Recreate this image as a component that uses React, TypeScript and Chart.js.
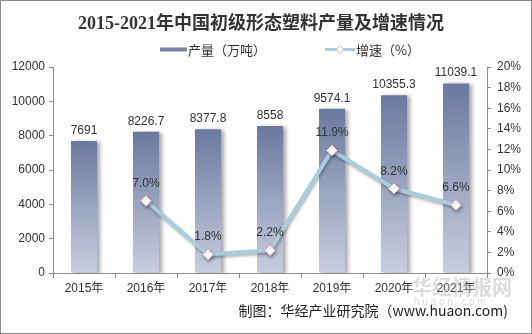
import React, { useEffect, useRef } from "react";
import { Chart, registerables } from "chart.js";

Chart.register(...registerables);

const categories = ["2015年", "2016年", "2017年", "2018年", "2019年", "2020年", "2021年"];
const production = [7691, 8226.7, 8377.8, 8558, 9574.1, 10355.3, 11039.1];
const growth = [null, 7.0, 1.8, 2.2, 11.9, 8.2, 6.6];
const titleText = "2015-2021年中国初级形态塑料产量及增速情况";
const legendBar = "产量（万吨）";
const legendLine = "增速（%）";
const sourceText = "制图：华经产业研究院（www.huaon.com)";

const FONT = "'Liberation Sans', Arial, 'Noto Sans CJK SC', sans-serif";
const CJK = "'Noto Sans CJK SC', 'Liberation Sans', sans-serif";
const AXIS = "#8c8c8c";
const LINE = "#a9cddb";

const decorPlugin = {
  id: "decor",
  beforeDatasetDraw(chart: any, args: any) {
    const ctx = chart.ctx;
    ctx.save();
    if (args.index === 0) {
      ctx.shadowColor = "rgba(0,0,0,0.35)";
      ctx.shadowBlur = 4;
      ctx.shadowOffsetX = 3;
      ctx.shadowOffsetY = 1;
    } else {
      ctx.shadowColor = "rgba(0,0,0,0.3)";
      ctx.shadowBlur = 3;
      ctx.shadowOffsetX = 1;
      ctx.shadowOffsetY = 2;
    }
  },
  afterDatasetDraw(chart: any) {
    chart.ctx.restore();
  },
  afterDatasetsDraw(chart: any) {
    const ctx = chart.ctx;
    ctx.save();
    ctx.fillStyle = "#333";
    ctx.font = "12px " + FONT;
    ctx.textAlign = "center";
    ctx.textBaseline = "alphabetic";
    const bars = chart.getDatasetMeta(0).data;
    bars.forEach((el: any, i: number) => {
      ctx.fillText(String(production[i]), el.x, el.y - 7);
    });
    const pts = chart.getDatasetMeta(1).data;
    pts.forEach((el: any, i: number) => {
      const v = growth[i];
      if (v == null) return;
      ctx.fillText(v.toFixed(1) + "%", el.x, el.y - 14);
    });
    ctx.restore();
  },
  afterDraw(chart: any) {
    const ctx = chart.ctx;
    ctx.save();
    ctx.strokeStyle = "#8a8a8a";
    ctx.lineWidth = 1;
    ctx.strokeRect(0.5, 0.5, chart.width - 1, chart.height - 1);
    ctx.fillStyle = "#333";
    ctx.font = "bold 18px 'Liberation Serif', 'Noto Sans CJK SC', serif";
    ctx.textAlign = "center";
    ctx.textBaseline = "middle";
    ctx.fillText(titleText, 261, 24);
    ctx.font = "13px " + CJK;
    ctx.textAlign = "left";
    ctx.fillStyle = "#7a84a6";
    ctx.fillRect(160, 47.5, 27, 4);
    ctx.fillStyle = "#333";
    ctx.fillText(legendBar, 188, 50);
    ctx.strokeStyle = LINE;
    ctx.lineWidth = 3;
    ctx.beginPath();
    ctx.moveTo(325, 49.5);
    ctx.lineTo(355, 49.5);
    ctx.stroke();
    ctx.fillStyle = "#fff";
    ctx.strokeStyle = "#d8a8b4";
    ctx.lineWidth = 1;
    ctx.beginPath();
    ctx.moveTo(340, 45.5);
    ctx.lineTo(344, 49.5);
    ctx.lineTo(340, 53.5);
    ctx.lineTo(336, 49.5);
    ctx.closePath();
    ctx.fill();
    ctx.stroke();
    ctx.fillStyle = "#333";
    ctx.fillText(legendLine, 356, 50);
    ctx.fillStyle = "rgba(185,185,185,0.5)";
    ctx.font = "bold 20px " + CJK;
    ctx.fillText("华经情报网", 412, 287);
    ctx.font = "10px " + FONT;
    ctx.fillText("h u a o n . c o m", 414, 302);
    ctx.fillStyle = "#222";
    ctx.font = "14px " + CJK;
    ctx.textAlign = "right";
    ctx.fillText(sourceText, 508, 311);
    ctx.restore();
  },
};

export default function App() {
  const ref = useRef<HTMLCanvasElement | null>(null);
  useEffect(() => {
    document.body.style.margin = "0";
    const canvas = ref.current!;
    const chart = new Chart(canvas, {
      type: "bar",
      data: {
        labels: categories,
        datasets: [
          {
            type: "bar",
            label: legendBar,
            data: production,
            yAxisID: "y",
            order: 2,
            barPercentage: 0.42,
            categoryPercentage: 1,
            backgroundColor: (c: any) => {
              const ch = c.chart;
              const ys = ch.scales && ch.scales.y;
              if (!ch.chartArea || !ys || c.raw == null) return "#8a94b4";
              const top = ys.getPixelForValue(c.raw);
              const bottom = ys.getPixelForValue(0);
              if (!isFinite(top) || !isFinite(bottom)) return "#8a94b4";
              const g = ch.ctx.createLinearGradient(0, top, 0, bottom);
              g.addColorStop(0, "#6b799f");
              g.addColorStop(1, "#c9cedf");
              return g;
            },
            borderWidth: 0,
          },
          {
            type: "line",
            label: legendLine,
            data: growth,
            yAxisID: "y1",
            order: 1,
            borderColor: LINE,
            borderWidth: 4,
            pointStyle: "rectRot",
            pointRadius: 5.5,
            pointBackgroundColor: "#ffffff",
            pointBorderColor: "#dba9b6",
            pointBorderWidth: 1,
            spanGaps: false,
            tension: 0,
          },
        ],
      },
      options: {
        responsive: false,
        animation: false,
        layout: { padding: { top: 67, left: 0, right: 0, bottom: 0 } },
        plugins: { legend: { display: false }, title: { display: false }, tooltip: { enabled: false } },
        scales: {
          x: {
            offset: true,
            grid: { display: true, drawOnChartArea: false, offset: true, tickLength: 5, color: AXIS },
            border: { display: true, color: AXIS },
            ticks: { font: { family: FONT, size: 12 }, color: "#333", padding: 3 },
            afterFit: (s: any) => { s.height = 61; },
          },
          y: {
            position: "left",
            min: 0,
            max: 12000,
            ticks: {
              stepSize: 2000,
              font: { family: FONT, size: 12 },
              color: "#333",
              padding: 4,
              callback: (v: any) => String(v),
            },
            grid: { display: true, drawOnChartArea: false, tickLength: 4, color: AXIS },
            border: { display: true, color: AXIS },
            afterFit: (s: any) => { s.width = 53; },
          },
          y1: {
            position: "right",
            min: 0,
            max: 20,
            ticks: {
              stepSize: 2,
              font: { family: FONT, size: 12 },
              color: "#333",
              padding: 6,
              callback: (v: any) => v + "%",
            },
            grid: { display: true, drawOnChartArea: false, tickLength: 4, color: AXIS },
            border: { display: true, color: AXIS },
            afterFit: (s: any) => { s.width = 45; },
          },
        },
      },
      plugins: [decorPlugin],
    } as any);
    return () => chart.destroy();
  }, []);
  return (
    <div style={{ width: 532, height: 334, background: "#fff" }}>
      <canvas ref={ref} width={532} height={334} style={{ display: "block" }} />
    </div>
  );
}
